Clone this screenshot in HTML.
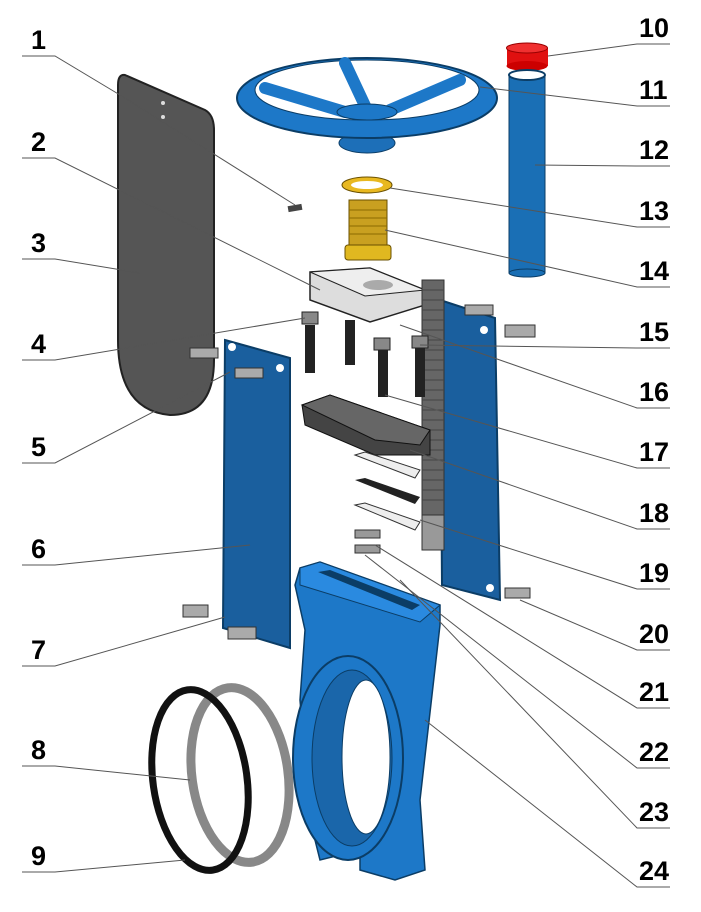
<!DOCTYPE html>
<html><head><meta charset="utf-8"><style>
html,body{margin:0;padding:0;background:#fff;}
svg{display:block;}
text{font-family:"Liberation Sans",Arial,sans-serif;font-weight:bold;font-size:27px;fill:#000;}
</style></head><body>
<svg width="701" height="912" viewBox="0 0 701 912" xmlns="http://www.w3.org/2000/svg">
<!-- plate 3 -->
<path d="M125,75 L205,110 Q214,115 214,130 L214,360 Q214,415 170,415 Q118,410 118,340 L118,85 Q118,74 125,75 Z" fill="#555" stroke="#222" stroke-width="2"/>
<circle cx="163" cy="103" r="2" fill="#ddd"/><circle cx="163" cy="117" r="2" fill="#ddd"/>
<!-- pin 1 -->
<rect x="288" y="205" width="14" height="6" fill="#444" transform="rotate(-10 295 208)"/>
<!-- handwheel -->
<ellipse cx="367" cy="143" rx="28" ry="10" fill="#1d6fb8" stroke="#0b3d66"/>
<ellipse cx="367" cy="98" rx="130" ry="40" fill="#1d78c8" stroke="#0b3d66" stroke-width="2"/>
<ellipse cx="367" cy="90" rx="112" ry="30" fill="#fff" stroke="#0b3d66"/>
<g stroke="#1d78c8" stroke-width="12" stroke-linecap="round">
<line x1="345" y1="63" x2="367" y2="110"/><line x1="460" y1="80" x2="390" y2="110"/><line x1="265" y1="88" x2="345" y2="112"/>
</g>
<ellipse cx="367" cy="112" rx="30" ry="8" fill="#1d78c8" stroke="#0b3d66"/>
<!-- cap and tube -->
<rect x="507" y="48" width="41" height="18" fill="#e01010"/>
<ellipse cx="527" cy="48" rx="20.5" ry="5" fill="#f03030" stroke="#900"/>
<ellipse cx="527" cy="66" rx="20.5" ry="5" fill="#c00"/>
<rect x="509" y="75" width="36" height="198" fill="#1a6fb5" stroke="#0b3d66"/>
<ellipse cx="527" cy="75" rx="18" ry="5" fill="#fff" stroke="#0b3d66" stroke-width="2"/>
<ellipse cx="527" cy="273" rx="18" ry="4" fill="#1a6fb5" stroke="#0b3d66"/>
<!-- washer / bushing -->
<ellipse cx="367" cy="185" rx="25" ry="8" fill="#e8b820" stroke="#6a5000"/>
<ellipse cx="367" cy="185" rx="16" ry="4" fill="#fff"/>
<rect x="349" y="200" width="38" height="48" fill="#c9a020" stroke="#6a5000"/>
<g stroke="#8a6a00"><line x1="349" y1="210" x2="387" y2="210"/><line x1="349" y1="218" x2="387" y2="218"/><line x1="349" y1="226" x2="387" y2="226"/><line x1="349" y1="234" x2="387" y2="234"/></g>
<rect x="345" y="245" width="46" height="15" rx="3" fill="#e0b820" stroke="#6a5000"/>
<!-- block 2 -->
<polygon points="310,272 370,268 425,290 425,305 370,322 310,300" fill="#ddd" stroke="#222" stroke-width="1.5"/>
<polygon points="310,272 370,268 425,290 365,296" fill="#eee" stroke="#222"/>
<ellipse cx="378" cy="285" rx="15" ry="5" fill="#aaa"/>
<!-- right plate -->
<polygon points="440,300 495,318 500,600 442,585" fill="#1a5f9e" stroke="#0b3d66" stroke-width="2"/>
<circle cx="484" cy="330" r="4" fill="#fff"/><circle cx="490" cy="588" r="4" fill="#fff"/>
<!-- stem -->
<rect x="422" y="280" width="22" height="270" fill="#666" stroke="#333"/>
<g stroke="#444" stroke-width="1"><path d="M422,290 H444 M422,300 H444 M422,310 H444 M422,320 H444 M422,330 H444 M422,340 H444 M422,350 H444 M422,360 H444 M422,370 H444 M422,380 H444 M422,390 H444 M422,400 H444 M422,410 H444 M422,420 H444 M422,430 H444 M422,440 H444 M422,450 H444 M422,460 H444 M422,470 H444 M422,480 H444 M422,490 H444 M422,500 H444"/></g>
<rect x="422" y="515" width="22" height="35" fill="#999" stroke="#333"/>
<!-- studs -->
<g fill="#222">
<rect x="305" y="325" width="10" height="48"/><rect x="345" y="320" width="10" height="45"/><rect x="378" y="345" width="10" height="52"/><rect x="415" y="345" width="10" height="52"/>
</g>
<g fill="#888" stroke="#222"><rect x="302" y="312" width="16" height="12"/><rect x="374" y="338" width="16" height="12"/><rect x="412" y="336" width="16" height="12"/></g>
<!-- yoke 17 -->
<polygon points="302,405 330,395 430,430 430,455 375,455 305,425" fill="#444" stroke="#111"/>
<polygon points="302,405 330,395 430,430 420,445 375,440" fill="#666" stroke="#111"/>
<!-- slats -->
<polygon points="355,455 365,452 420,470 415,478" fill="#eee" stroke="#333"/>
<polygon points="355,480 365,478 420,497 415,504" fill="#222"/>
<polygon points="355,505 365,503 420,522 415,530" fill="#eee" stroke="#333"/>
<!-- small bolts 21/22 -->
<g fill="#999" stroke="#333"><rect x="355" y="530" width="25" height="8"/><rect x="355" y="545" width="25" height="8"/></g>
<!-- bolts right -->
<g fill="#aaa" stroke="#333"><rect x="465" y="305" width="28" height="10"/><rect x="505" y="325" width="30" height="12"/><rect x="505" y="588" width="25" height="10"/></g>
<!-- left plate -->
<polygon points="225,340 290,358 290,648 223,628" fill="#1a5f9e" stroke="#0b3d66" stroke-width="2"/>
<circle cx="232" cy="347" r="4" fill="#fff"/><circle cx="280" cy="368" r="4" fill="#fff"/>
<g fill="#aaa" stroke="#333"><rect x="190" y="348" width="28" height="10"/><rect x="235" y="368" width="28" height="10"/><rect x="183" y="605" width="25" height="12"/><rect x="228" y="627" width="28" height="12"/></g>
<!-- seals -->
<ellipse cx="240" cy="775" rx="48" ry="88" fill="none" stroke="#888" stroke-width="9" transform="rotate(-8 240 775)"/>
<ellipse cx="200" cy="780" rx="47" ry="91" fill="none" stroke="#111" stroke-width="7" transform="rotate(-8 200 780)"/>
<!-- body 24 -->
<polygon points="300,568 320,562 440,605 440,625 420,800 425,870 395,880 360,870 360,850 320,860 310,820 300,700 305,630 295,585" fill="#1d78c8" stroke="#0b3d66" stroke-width="1.5"/>
<polygon points="300,568 320,562 440,605 420,622 300,585" fill="#2a8ae0" stroke="#0b3d66"/>
<polygon points="318,572 330,570 420,605 412,610" fill="#0b3d66"/>
<ellipse cx="348" cy="758" rx="55" ry="102" fill="#1d78c8" stroke="#0b3d66" stroke-width="2"/>
<ellipse cx="352" cy="758" rx="40" ry="88" fill="#1a66aa" stroke="#0b3d66"/>
<ellipse cx="366" cy="757" rx="24" ry="77" fill="#fff" stroke="#0b3d66"/>
<!-- leader lines -->
<g stroke="#555" stroke-width="1" fill="none">
<polyline points="22,56 55,56 120,95 295,205"/>
<polyline points="22,158 55,158 320,290"/>
<polyline points="22,259 55,259 140,273"/>
<polyline points="22,360 55,360 305,318"/>
<polyline points="22,463 55,463 230,372"/>
<polyline points="22,565 55,565 250,545"/>
<polyline points="22,666 55,666 225,617"/>
<polyline points="22,766 55,766 190,780"/>
<polyline points="22,872 55,872 185,860"/>
<polyline points="670,44 637,44 548,56"/>
<polyline points="670,106 637,106 480,87"/>
<polyline points="670,166 637,166 535,165"/>
<polyline points="670,227 637,227 390,188"/>
<polyline points="670,287 637,287 385,230"/>
<polyline points="670,348 637,348 420,345"/>
<polyline points="670,408 637,408 400,325"/>
<polyline points="670,468 637,468 385,395"/>
<polyline points="670,529 637,529 410,450"/>
<polyline points="670,589 637,589 420,520"/>
<polyline points="670,650 637,650 520,600"/>
<polyline points="670,708 637,708 375,545"/>
<polyline points="670,768 637,768 365,555"/>
<polyline points="670,828 637,828 400,580"/>
<polyline points="670,887 637,887 425,720"/>
</g>
<!-- labels -->
<text x="31" y="49">1</text><text x="31" y="151">2</text><text x="31" y="252">3</text><text x="31" y="353">4</text><text x="31" y="456">5</text><text x="31" y="558">6</text><text x="31" y="659">7</text><text x="31" y="759">8</text><text x="31" y="865">9</text>
<text x="639" y="37">10</text><text x="639" y="99">11</text><text x="639" y="159">12</text><text x="639" y="220">13</text><text x="639" y="280">14</text><text x="639" y="341">15</text><text x="639" y="401">16</text><text x="639" y="461">17</text><text x="639" y="522">18</text><text x="639" y="582">19</text><text x="639" y="643">20</text><text x="639" y="701">21</text><text x="639" y="761">22</text><text x="639" y="821">23</text><text x="639" y="880">24</text>
</svg>
</body></html>
